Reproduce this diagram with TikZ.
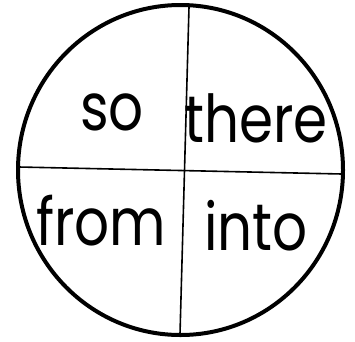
\documentclass[tikz,border=0pt]{standalone}
\usepackage{fontspec}
\setmainfont{Poppins}
\newcommand{\narrow}[1]{\scalebox{0.83}[1]{#1}}
\begin{document}
\begin{tikzpicture}[x=1pt,y=-1pt,
  word/.style={font=\fontsize{66}{66}\selectfont, inner sep=0pt, anchor=base},
  rim/.style={line width=4pt},
  divider/.style={line width=1.6pt}]
\useasboundingbox (0,0) rectangle (355,341);
\draw[rim] (180.5,170) ellipse [x radius=162.5, y radius=165];
\coordinate (vt) at (189,7);
\coordinate (vb) at (180,334);
\coordinate (hl) at (19,167);
\coordinate (hr) at (342,174);
\draw[divider] (vt) -- (vb);
\draw[divider] (hl) -- (hr);
\node[word] (so) at (112,130) {\narrow{so}};
\node[word] (there) at (256,142) {\narrow{there}};
\node[word] (from) at (101,245) {\narrow{from}};
\node[word] (into) at (256,250) {\narrow{into}};
\end{tikzpicture}
\end{document}
